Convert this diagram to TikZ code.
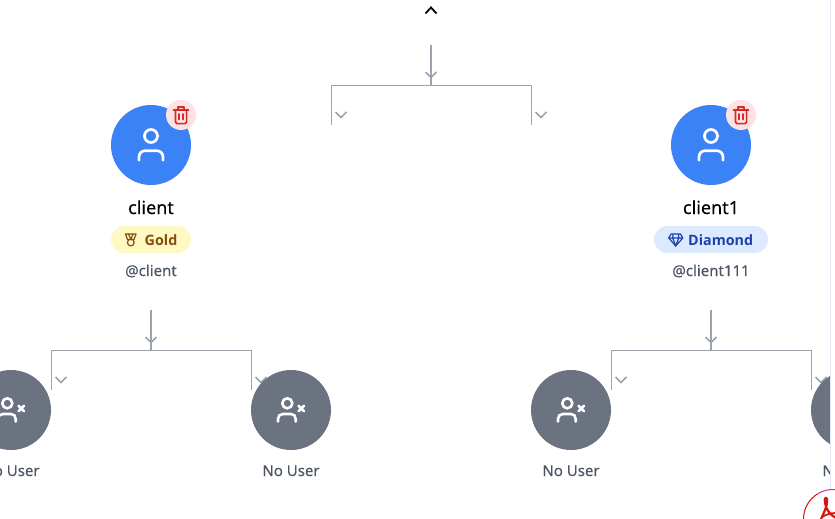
\documentclass[tikz,border=0pt]{standalone}
\usepackage{fontspec}
\setmainfont{Noto Sans}[FakeBold=0.08]
\newfontfamily\semi{Open Sans}
\definecolor{linegray}{HTML}{9CA3AF}
\definecolor{avblue}{HTML}{3B82F6}
\definecolor{nogray}{HTML}{6B7280}
\definecolor{txtgray}{HTML}{4B5563}
\definecolor{pinkbg}{HTML}{FEE2E2}
\definecolor{trashred}{HTML}{DC2626}
\definecolor{goldbg}{HTML}{FEF9C3}
\definecolor{goldtx}{HTML}{854D0E}
\definecolor{diabg}{HTML}{DBEAFE}
\definecolor{diatx}{HTML}{1E40AF}
\definecolor{edge}{HTML}{E5E7F5}
\definecolor{pdfred}{HTML}{D9140C}
\definecolor{pdfmag}{HTML}{C9328F}
\tikzset{
  x=1pt,y=-1pt,
  avatar/.style={circle,fill=avblue,minimum size=80pt,inner sep=0pt},
  nouser/.style={circle,fill=nogray,minimum size=80pt,inner sep=0pt},
  trashbg/.style={circle,fill=pinkbg,minimum size=30pt,inner sep=0pt},
  stem/.style={draw=linegray,line width=2pt},
  bracket/.style={draw=linegray,line width=1pt},
  chev/.style={draw=linegray,line width=1.6pt},
  nametext/.style={font=\fontsize{18}{20}\selectfont,text=black,inner sep=0pt,anchor=base},
  handle/.style={font=\fontsize{15}{17}\selectfont,text=txtgray,inner sep=0pt,anchor=base},
  emptylabel/.style={font=\fontsize{15}{17}\selectfont,text=txtgray,inner sep=0pt,anchor=base},
  badgebox/.style={rounded corners=13.5pt,inner sep=0pt,minimum height=27pt},
  badgetext/.style={font=\semi\bfseries\fontsize{14.3}{17}\selectfont,inner sep=0pt,anchor=base west},
}
\newcommand{\chevdown}[2]{\draw[chev] (#1-5.5,#2-3) -- (#1,#2+2.5) -- (#1+5.5,#2-3);}
\newcommand{\bracketset}[4]{% name, x of stem, y top, half width
  \coordinate (#1t) at (#2,#3);
  \coordinate (#1j) at (#2,#3+40);
  \coordinate (#1l) at (#2-#4+.5,#3+40.5);
  \coordinate (#1r) at (#2+#4+.5,#3+40.5);
  \coordinate (#1le) at (#2-#4+.5,#3+80);
  \coordinate (#1re) at (#2+#4+.5,#3+80);
  \chevdown{#2}{#3+30}
  \draw[stem] (#1t) -- (#1j);
  \draw[bracket] (#1le) -- (#1l) -- (#1r) -- (#1re);
  \chevdown{#2-#4+10}{#3+70}
  \chevdown{#2+#4+10}{#3+70}
}
\newcommand{\usericon}[2]{%
  \draw[white,line width=2.7pt] (#1,#2-9) circle (6.5pt);
  \draw[white,line width=2.7pt,line cap=round] (#1-12,#2+15.3) -- (#1-12,#2+12) .. controls (#1-12,#2+8) and (#1-9,#2+5.7) .. (#1-5.5,#2+5.7) -- (#1+5.5,#2+5.7) .. controls (#1+9,#2+5.7) and (#1+12,#2+8) .. (#1+12,#2+12) -- (#1+12,#2+15.3);
}
\newcommand{\nousericon}[2]{%
  \draw[white,line width=2.6pt] (#1-3.7,#2-6.7) circle (5pt);
  \draw[white,line width=2.6pt,line cap=round] (#1-13,#2+11.5) -- (#1-13,#2+9) .. controls (#1-13,#2+6) and (#1-11,#2+4) .. (#1-8,#2+4) -- (#1,#2+4) .. controls (#1+3,#2+4) and (#1+4.7,#2+6) .. (#1+4.7,#2+9) -- (#1+4.7,#2+11.5);
  \draw[white,line width=2.6pt,line cap=round] (#1+7.5,#2-4.2) -- (#1+13,#2+1.3) (#1+13,#2-4.2) -- (#1+7.5,#2+1.3);
}
\newcommand{\trashicon}[2]{%
  \begin{scope}[trashred,line width=1.7pt,line join=round,line cap=round]
    \draw (#1-7.5,#2-5) -- (#1+7.5,#2-5);
    \draw (#1-3.2,#2-5) -- (#1-3.2,#2-8) -- (#1+3.2,#2-8) -- (#1+3.2,#2-5);
    \draw (#1-5.6,#2-5) -- (#1-5.6,#2+7) .. controls (#1-5.6,#2+8) and (#1-5,#2+8.6) .. (#1-4,#2+8.6) -- (#1+4,#2+8.6) .. controls (#1+5,#2+8.6) and (#1+5.6,#2+8) .. (#1+5.6,#2+7) -- (#1+5.6,#2-5);
    \draw (#1-1.7,#2-1) -- (#1-1.7,#2+4.5) (#1+1.7,#2-1) -- (#1+1.7,#2+4.5);
  \end{scope}
}
\begin{document}
\begin{tikzpicture}
\useasboundingbox (0,0) rectangle (835,519);
\fill[white] (0,0) rectangle (835,519);
\begin{scope}
\clip (0,0) rectangle (830,519);
% top chevron
\draw[black,line width=1.8pt] (425.5,13.5) -- (431,7.5) -- (436.5,13.5);
% connectors
\bracketset{top}{431}{45}{100}
\bracketset{lft}{151}{310}{100}
\bracketset{rgt}{711}{310}{100}
% users
\node[avatar] (clientav) at (151,145) {};
\usericon{151}{145}
\node[trashbg] (clienttr) at (181,115) {};
\trashicon{181}{115}
\node[nametext] (clientname) at (151,214) {client};
\node[badgebox,fill=goldbg,minimum width=80pt] (goldb) at (151,239.5) {};
\begin{scope}[goldtx,line width=1.2pt,line join=round]
  \draw (125.5,234) -- (136,234) -- (134,239.5) -- (127.5,239.5) -- cycle;
  \draw (128.5,234) -- (130.8,239.5) (133,234) -- (130.8,239.5);
  \draw (130.8,242.5) circle (3.4pt);
\end{scope}
\node[badgetext,text=goldtx] (goldt) at (144.5,245) {Gold};
\node[handle] (clienth) at (151,276) {@client};
\node[avatar] (client1av) at (711,145) {};
\usericon{711}{145}
\node[trashbg] (client1tr) at (741,115) {};
\trashicon{741}{115}
\node[nametext] (client1name) at (711,214) {client1};
\node[badgebox,fill=diabg,minimum width=114pt] (diab) at (711,239.5) {};
\begin{scope}[diatx,line width=1.2pt,line join=round]
  \draw (671,234) -- (680.5,234) -- (682.8,238) -- (675.7,246) -- (668.7,238) -- cycle;
  \draw (668.7,238) -- (682.8,238) (672.7,238) -- (675.7,246) -- (678.7,238) (673,234) -- (672.7,238) (678.5,234) -- (678.7,238);
\end{scope}
\node[badgetext,text=diatx] (diat) at (688,245) {Diamond};
\node[handle] (client1h) at (711,276) {@client111};
% empty slots
\node[nouser] (n1) at (11,410) {};
\nousericon{11}{410}
\node[emptylabel] (n1t) at (11,476) {No User};
\node[nouser] (n2) at (291,410) {};
\nousericon{291}{410}
\node[emptylabel] (n2t) at (291,476) {No User};
\node[nouser] (n3) at (571,410) {};
\nousericon{571}{410}
\node[emptylabel] (n3t) at (571,476) {No User};
\node[nouser] (n4) at (851,410) {};
\node[emptylabel] (n4t) at (851,476) {No User};
\end{scope}
% window edge
\draw[edge,line width=1pt] (830.5,0) -- (830.5,519);
% pdf badge
\begin{scope}
\clip (0,0) rectangle (835,519);
\fill[white] (833,519) circle (30pt);
\draw[pdfred,line width=1pt] (803.5,519) arc (180:120:29.5pt);
\draw[pdfmag,line width=1pt] (818.25,493.45) arc (120:60:29.5pt);
\draw[pdfred,line width=2.2pt,line join=round] (821,519) .. controls (825,511) and (828,503) .. (827,499) .. controls (826,496.5) and (824,498) .. (825,503) .. controls (826,509) and (830,515) .. (836,518);
\draw[pdfred,line width=1.8pt] (822,517) .. controls (826,514.5) and (831,513) .. (836,513);
\end{scope}
\end{tikzpicture}
\end{document}
